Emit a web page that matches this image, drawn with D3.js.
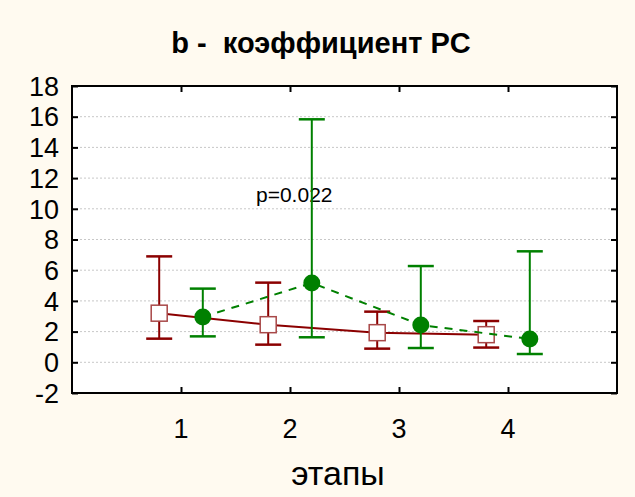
<!DOCTYPE html>
<html><head><meta charset="utf-8">
<script src="https://cdn.jsdelivr.net/npm/d3@7"></script>
<style>
html,body{margin:0;padding:0;background:#FFFAF0;}
svg{display:block;}
text{font-family:Arial,"Liberation Sans",sans-serif;}
</style></head>
<body>
<script>
const stages = [1, 2, 3, 4];
const yTicks = [-2, 0, 2, 4, 6, 8, 10, 12, 14, 16, 18];
// series 1 (red squares, solid line)
const mean1 = [3.2, 2.45, 1.93, 1.8];
const low1  = [1.54, 1.15, 0.89, 0.96];
const high1 = [6.9, 5.19, 3.3, 2.69];
// series 2 (green circles, dashed line)
const mean2 = [2.95, 5.17, 2.43, 1.52];
const low2  = [1.69, 1.63, 0.93, 0.54];
const high2 = [4.8, 15.83, 6.27, 7.23];

const W = 635, H = 497;
const svg = d3.select("body").append("svg").attr("width", W).attr("height", H);
svg.append("rect").attr("width", W).attr("height", H).attr("fill", "#FFFAF0");

const x = d3.scaleLinear().domain([0, 5]).range([72, 617]);
const y = d3.scaleLinear().domain([-2, 18]).range([393, 86]);

// plot background
svg.append("rect").attr("x", x(0)).attr("y", y(18)).attr("width", x(5) - x(0)).attr("height", y(-2) - y(18)).attr("fill", "#ffffff");

// gridlines
svg.append("g").selectAll("line").data(yTicks.filter(t => t > -2 && t < 18)).join("line")
  .attr("x1", x(0)).attr("x2", x(5)).attr("y1", d => y(d)).attr("y2", d => y(d))
  .attr("stroke", "#c8c8c8").attr("stroke-width", 1).attr("stroke-dasharray", "2,2");

// axes
const fs = 27;
const axLeft = svg.append("g").attr("transform", `translate(${x(0)},0)`)
  .call(d3.axisRight(y).tickValues(yTicks).tickSize(6).tickFormat(""));
const axRight = svg.append("g").attr("transform", `translate(${x(5)},0)`)
  .call(d3.axisLeft(y).tickValues(yTicks).tickSize(6).tickFormat(""));
const axBottom = svg.append("g").attr("transform", `translate(0,${y(-2)})`)
  .call(d3.axisTop(x).tickValues(stages).tickSize(6).tickFormat(""));
const axTop = svg.append("g").attr("transform", `translate(0,${y(18)})`)
  .call(d3.axisBottom(x).tickValues(stages).tickSize(6).tickFormat(""));
[axLeft, axRight, axBottom, axTop].forEach(g => {
  g.select(".domain").remove();
  g.selectAll(".tick line").attr("stroke", "#000").attr("stroke-width", 2);
});
// y tick labels
svg.append("g").selectAll("text").data(yTicks).join("text")
  .attr("x", 59).attr("y", d => y(d)).attr("dy", "0.36em")
  .attr("text-anchor", "end").attr("font-size", fs).attr("fill", "#000")
  .text(d => d);
// x tick labels
svg.append("g").selectAll("text").data(stages).join("text")
  .attr("x", d => x(d)).attr("y", 438)
  .attr("text-anchor", "middle").attr("font-size", fs).attr("fill", "#000")
  .text(d => d);

// frame
svg.append("rect").attr("x", x(0)).attr("y", y(18)).attr("width", x(5) - x(0)).attr("height", y(-2) - y(18))
  .attr("fill", "none").attr("stroke", "#000").attr("stroke-width", 2);

// title
svg.append("text").attr("x", 321).attr("y", 53).attr("text-anchor", "middle")
  .attr("font-size", 29).attr("font-weight", "bold").attr("fill", "#000")
  .attr("xml:space", "preserve").style("white-space", "pre")
  .text("b -  коэффициент PC");

// x axis label
svg.append("text").attr("x", 338).attr("y", 485).attr("text-anchor", "middle")
  .attr("font-size", 34).attr("fill", "#000").text("этапы");

// p annotation
svg.append("text").attr("x", 256).attr("y", 202).attr("font-size", 21).attr("fill", "#000").text("p=0.022");

const off = 0.2, cap = 13;
function drawSeries(means, lows, highs, dx, color, dashed, marker) {
  const g = svg.append("g");
  const pts = stages.map((s, i) => ({ x: s + dx, m: means[i], lo: lows[i], hi: highs[i] }));
  const line = d3.line().x(d => x(d.x)).y(d => y(d.m));
  g.append("path").datum(pts).attr("d", line).attr("fill", "none")
    .attr("stroke", color).attr("stroke-width", 2)
    .attr("stroke-dasharray", dashed ? "8,7" : null);
  g.selectAll(".v").data(pts).join("line")
    .attr("x1", d => x(d.x)).attr("x2", d => x(d.x)).attr("y1", d => y(d.lo)).attr("y2", d => y(d.hi))
    .attr("stroke", color).attr("stroke-width", 2);
  ["lo", "hi"].forEach(k => {
    g.selectAll(".c" + k).data(pts).join("line")
      .attr("x1", d => x(d.x) - cap).attr("x2", d => x(d.x) + cap)
      .attr("y1", d => y(d[k])).attr("y2", d => y(d[k]))
      .attr("stroke", color).attr("stroke-width", 2.5);
  });
  if (marker === "square") {
    g.selectAll(".m").data(pts).join("rect")
      .attr("x", d => x(d.x) - 8).attr("y", d => y(d.m) - 8).attr("width", 16).attr("height", 16)
      .attr("fill", "#fff").attr("stroke", "#a84848").attr("stroke-width", 1.5);
  } else {
    g.selectAll(".m").data(pts).join("circle")
      .attr("cx", d => x(d.x)).attr("cy", d => y(d.m)).attr("r", 8.5)
      .attr("fill", color);
  }
}
drawSeries(mean1, low1, high1, -off, "#8B0000", false, "square");
drawSeries(mean2, low2, high2, off, "#008000", true, "circle");
</script>
</body></html>
